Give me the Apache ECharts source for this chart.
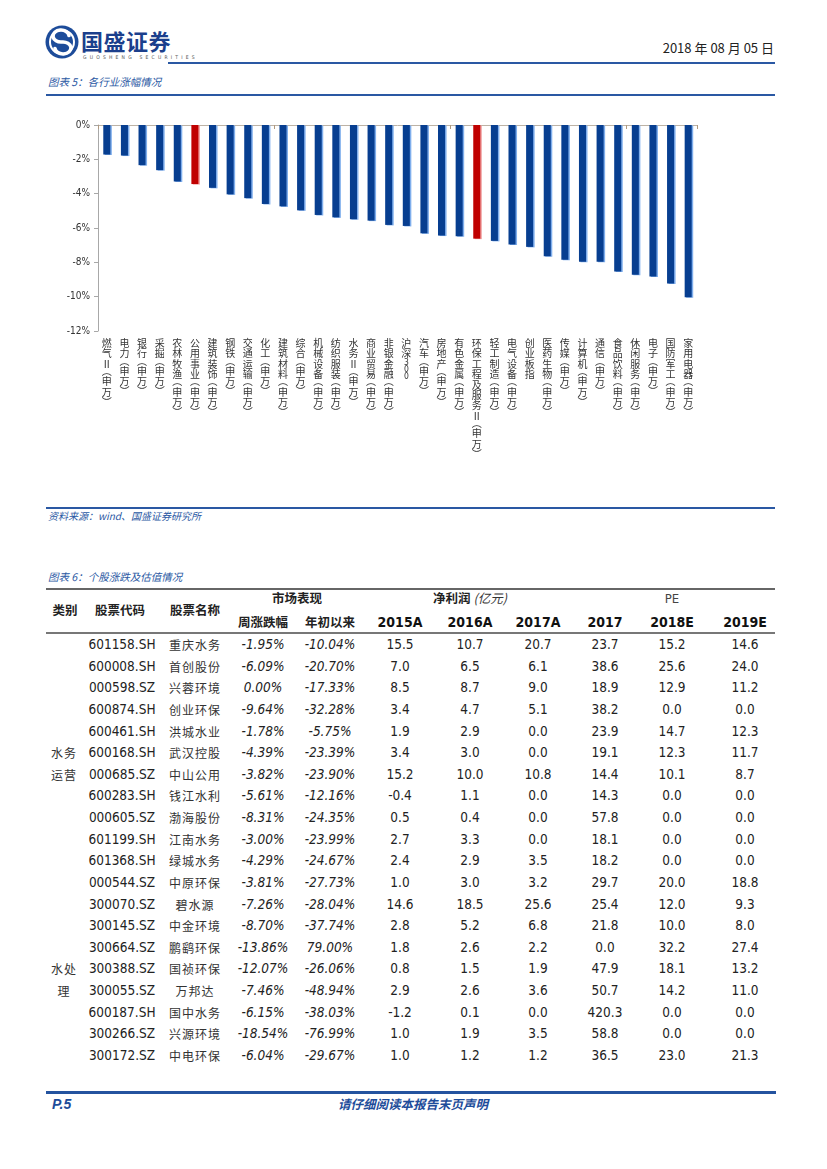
<!DOCTYPE html>
<html><head><meta charset="utf-8">
<script src="https://cdn.jsdelivr.net/npm/echarts@6/dist/echarts.min.js"></script>
<style>
body{margin:0;background:#fff;}
#page{position:relative;width:827px;height:1169px;overflow:hidden;font-family:"Noto Sans CJK SC",sans-serif;background:#fff;}
.t{position:absolute;white-space:nowrap;line-height:1;}
.ln{position:absolute;}
</style></head><body>
<div id="page">
<svg style="position:absolute;left:44px;top:24px;" width="36" height="36" viewBox="0 0 36 36">
  <circle cx="18" cy="18" r="16.5" fill="#1d4c9a"/>
  <circle cx="18" cy="18" r="12" fill="none" stroke="#fff" stroke-width="2"/>
  <path d="M25 11.5 A8 6 0 1 0 18 18 A8 6 0 1 1 11 24.5" fill="none" stroke="#fff" stroke-width="3.6" stroke-linecap="round"/>
</svg>
<div id="chart" style="position:absolute;left:0;top:100px;width:827px;height:400px;"></div>
</div>
<script>
// ---------- chart data ----------
const industries = ['燃气Ⅱ(申万)','电力(申万)','银行(申万)','采掘(申万)','农林牧渔(申万)','公用事业(申万)','建筑装饰(申万)','钢铁(申万)','交通运输(申万)','化工(申万)','建筑材料(申万)','综合(申万)','机械设备(申万)','纺织服装(申万)','水务Ⅱ(申万)','商业贸易(申万)','非银金融(申万)','沪深300','汽车(申万)','房地产(申万)','有色金属(申万)','环保工程及服务Ⅱ(申万)','轻工制造(申万)','电气设备(申万)','创业板指','医药生物(申万)','传媒(申万)','计算机(申万)','通信(申万)','食品饮料(申万)','休闲服务(申万)','电子(申万)','国防军工(申万)','家用电器(申万)'];
const changes = [-1.72,-1.78,-2.34,-2.63,-3.29,-3.44,-3.66,-4.04,-4.26,-4.60,-4.74,-4.97,-5.24,-5.38,-5.49,-5.57,-5.82,-5.88,-6.31,-6.44,-6.48,-6.62,-6.75,-6.96,-7.10,-7.64,-7.85,-7.97,-7.97,-8.53,-8.72,-8.82,-9.23,-10.04];
const highlighted = ['公用事业(申万)','环保工程及服务Ⅱ(申万)'];
const yMin = -12, yMax = 0, yStep = 2;

// ---------- table data ----------
const codes = ['601158.SH','600008.SH','000598.SZ','600874.SH','600461.SH','600168.SH','000685.SZ','600283.SH','000605.SZ','601199.SH','601368.SH','000544.SZ','300070.SZ','300145.SZ','300664.SZ','300388.SZ','300055.SZ','600187.SH','300266.SZ','300172.SZ'];
const names = ['重庆水务','首创股份','兴蓉环境','创业环保','洪城水业','武汉控股','中山公用','钱江水利','渤海股份','江南水务','绿城水务','中原环保','碧水源','中金环境','鹏鹞环保','国祯环保','万邦达','国中水务','兴源环境','中电环保'];
const weekChg = ['-1.95%','-6.09%','0.00%','-9.64%','-1.78%','-4.39%','-3.82%','-5.61%','-8.31%','-3.00%','-4.29%','-3.81%','-7.26%','-8.70%','-13.86%','-12.07%','-7.46%','-6.15%','-18.54%','-6.04%'];
const ytdChg = ['-10.04%','-20.70%','-17.33%','-32.28%','-5.75%','-23.39%','-23.90%','-12.16%','-24.35%','-23.99%','-24.67%','-27.73%','-28.04%','-37.74%','79.00%','-26.06%','-48.94%','-38.03%','-76.99%','-29.67%'];
const np2015 = [15.5,7.0,8.5,3.4,1.9,3.4,15.2,-0.4,0.5,2.7,2.4,1.0,14.6,2.8,1.8,0.8,2.9,-1.2,1.0,1.0];
const np2016 = [10.7,6.5,8.7,4.7,2.9,3.0,10.0,1.1,0.4,3.3,2.9,3.0,18.5,5.2,2.6,1.5,2.6,0.1,1.9,1.2];
const np2017 = [20.7,6.1,9.0,5.1,0.0,0.0,10.8,0.0,0.0,0.0,3.5,3.2,25.6,6.8,2.2,1.9,3.6,0.0,3.5,1.2];
const pe2017 = [23.7,38.6,18.9,38.2,23.9,19.1,14.4,14.3,57.8,18.1,18.2,29.7,25.4,21.8,0.0,47.9,50.7,420.3,58.8,36.5];
const pe2018 = [15.2,25.6,12.9,0.0,14.7,12.3,10.1,0.0,0.0,0.0,0.0,20.0,12.0,10.0,32.2,18.1,14.2,0.0,0.0,23.0];
const pe2019 = [14.6,24.0,11.2,0.0,12.3,11.7,8.7,0.0,0.0,0.0,0.0,18.8,9.3,8.0,27.4,13.2,11.0,0.0,0.0,21.3];
const groups = [{lines:['水务','运营'], from:0, to:11}, {lines:['水处','理'], from:12, to:19}];
const subHeaders = ['周涨跌幅','年初以来','2015A','2016A','2017A','2017','2018E','2019E'];

// ---------- page helpers ----------
const page = document.getElementById('page');
const NUM = '"Liberation Sans Narrow","Arial Narrow","DejaVu Sans Condensed",sans-serif';
const CJK = '"Noto Sans CJK SC",sans-serif';
function put(html, x, y, css, align){
  const d = document.createElement('div');
  d.className = 't';
  d.innerHTML = html;
  d.style.cssText += css;
  d.style.left = x + 'px'; d.style.top = y + 'px';
  const tx = align === 'l' ? '0' : (align === 'r' ? '-100%' : '-50%');
  d.style.transform = 'translate(' + tx + ',-50%)';
  page.appendChild(d);
}
function hline(x1, x2, y, h, color){
  const d = document.createElement('div');
  d.className = 'ln';
  d.style.cssText = 'left:'+x1+'px;top:'+(y - h/2)+'px;width:'+(x2-x1)+'px;height:'+h+'px;background:'+color+';';
  page.appendChild(d);
}
const BLUE = '#2a58a3';

// header
put('国盛证券', 81, 40, 'font-family:'+CJK+';font-weight:700;font-size:22px;color:#1b3f8c;letter-spacing:0.5px;', 'l');
put('GUOSHENG SECURITIES', 83, 57, 'font-family:'+NUM+';font-size:5px;color:#555;letter-spacing:3.2px;', 'l');
const DN = 'font-family:'+NUM+';font-size:17px';
put('<span style="'+DN+'">2018</span> 年 <span style="'+DN+'">08</span> 月 <span style="'+DN+'">05</span> 日', 774, 47, 'font-family:'+CJK+';font-size:13px;color:#222;', 'r');
hline(168, 775, 63, 2.2, BLUE);

put('图表 5：各行业涨幅情况', 48, 82, 'font-family:'+CJK+';font-style:italic;font-size:10.5px;color:'+BLUE+';', 'l');
hline(46, 775, 95, 1.6, BLUE);

hline(46, 775, 508, 1.6, BLUE);
put('资料来源：<span style="font-family:'+NUM+';font-size:11px">wind</span>、国盛证券研究所', 48, 516, 'font-family:'+CJK+';font-style:italic;font-size:10px;color:'+BLUE+';', 'l');

put('图表 6：个股涨跌及估值情况', 48, 577, 'font-family:'+CJK+';font-style:italic;font-size:10.5px;color:'+BLUE+';', 'l');
hline(46, 775, 589, 1.5, '#666');
hline(46, 775, 633, 1.5, '#777');

// table header
const colX = [263, 330, 400, 470, 538, 605, 672, 745];
const HB = 'font-family:'+CJK+';font-weight:700;font-size:12.5px;color:#222;';
put('类别', 65, 610, HB, 'c');
put('股票代码', 120, 610, HB, 'c');
put('股票名称', 195, 610, HB, 'c');
put('市场表现', 297, 598, HB, 'c');
put('净利润 <span style="font-weight:400;font-style:italic;color:#333">(亿元)</span>', 470, 598, HB, 'c');
put('PE', 672, 598, 'font-family:'+NUM+';font-size:13px;color:#444;', 'c');
subHeaders.forEach((h, i) => {
  const isNum = /\d/.test(h);
  put(h, colX[i], 622, isNum ? 'font-family:'+NUM+';font-weight:700;font-size:14px;color:#111;' : HB, 'c');
});

// table rows
const rowY0 = 645, rowStep = 21.63;
const NS = 'font-family:'+NUM+';font-size:13.5px;color:#222;';
const NI = NS + 'font-style:italic;';
const CS = 'font-family:'+CJK+';font-size:12px;color:#333;letter-spacing:1px;';
codes.forEach((c, i) => {
  const y = rowY0 + i * rowStep;
  put(c, 122, y, NS, 'c');
  put(names[i], 195, y, CS, 'c');
  put(weekChg[i], colX[0], y, NI, 'c');
  put(ytdChg[i], colX[1], y, NI, 'c');
  [np2015, np2016, np2017, pe2017, pe2018, pe2019].forEach((arr, k) => {
    put(arr[i].toFixed(1), colX[k + 2], y, NS, 'c');
  });
});
groups.forEach(g => {
  const mid = rowY0 + (g.from + g.to) / 2 * rowStep;
  put(g.lines[0], 64, mid - rowStep / 2, CS, 'c');
  put(g.lines[1], 64, mid + rowStep / 2, CS, 'c');
});

// footer
hline(46, 776, 1092, 3, '#24539f');
put('P.5', 52, 1104, 'font-family:"Liberation Sans",sans-serif;font-weight:700;font-style:italic;font-size:14px;color:#1d4c9a;', 'l');
put('请仔细阅读本报告末页声明', 413, 1104, 'font-family:'+CJK+';font-weight:700;font-style:italic;font-size:12.5px;color:#1d4c9a;', 'c');

// ---------- chart ----------
function vertical(label){
  const out = [];
  for (const ch of label){
    if (ch === '(') out.push('{p|︵}');
    else if (ch === ')') out.push('{q|︶}');
    else if (/[0-9]/.test(ch)) out.push('{d|' + ch + '}');
    else out.push('{c|' + ch + '}');
  }
  return out.join('\n');
}
const chart = echarts.init(document.getElementById('chart'), null, {renderer: 'canvas'});
chart.setOption({
  animation: false,
  grid: {left: 98, right: 130, top: 25, bottom: 169},
  xAxis: [
    {type: 'category', data: industries, position: 'top',
     axisLine: {show: true, onZero: false, lineStyle: {color: '#bdb3a6', width: 1}},
     axisTick: {show: true, inside: true, length: 4, lineStyle: {color: '#b09a80'}},
     axisLabel: {show: false}, splitLine: {show: false}},
    {type: 'category', data: industries, position: 'bottom',
     axisLine: {show: false}, axisTick: {show: false}, splitLine: {show: false},
     axisLabel: {interval: 0, margin: 7, verticalAlign: 'top', color: '#333',
       formatter: v => vertical(v),
       rich: {
         c: {fontSize: 10, lineHeight: 10.4, fontFamily: CJK, color: '#333'},
         p: {fontSize: 10, lineHeight: 7, fontFamily: CJK, color: '#333', padding: [0, 0, 3, 0]},
         q: {fontSize: 10, lineHeight: 7, fontFamily: CJK, color: '#333', padding: [3, 0, 0, 0]},
         d: {fontSize: 8.5, lineHeight: 7, fontFamily: NUM, color: '#333'}
       }}}
  ],
  yAxis: {type: 'value', min: yMin, max: yMax, interval: yStep,
    axisLine: {show: true, lineStyle: {color: '#a8a8a8'}},
    axisTick: {show: true, length: 4, lineStyle: {color: '#a8a8a8'}},
    splitLine: {show: false},
    axisLabel: {formatter: '{value}%', fontSize: 10, color: '#333', fontFamily: NUM, margin: 8}},
  series: [{
    type: 'bar', xAxisIndex: 0, barWidth: '40%',
    data: changes.map((v, i) => {
      const red = highlighted.includes(industries[i]);
      return {value: v, itemStyle: {
        color: red ? '#c00000' : '#073e90',
        shadowColor: red ? 'rgba(240,150,150,0.9)' : 'rgba(120,170,235,0.95)',
        shadowOffsetX: 1.5, shadowOffsetY: 0.5, shadowBlur: 0}};
    })
  }]
});
</script>
</body></html>
